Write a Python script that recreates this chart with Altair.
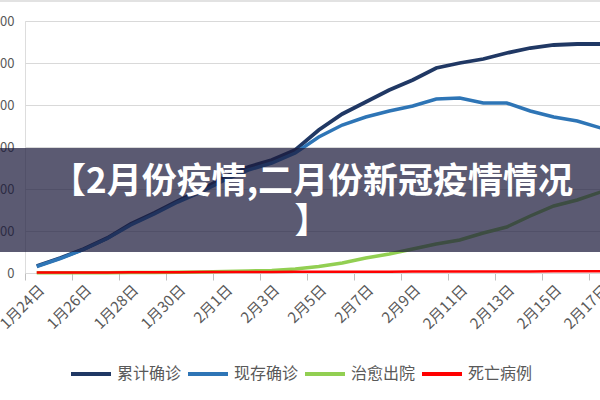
import altair as alt
import pandas as pd

dates = ["1月24日", "1月25日", "1月26日", "1月27日", "1月28日", "1月29日", "1月30日",
         "1月31日", "2月1日", "2月2日", "2月3日", "2月4日", "2月5日", "2月6日",
         "2月7日", "2月8日", "2月9日", "2月10日", "2月11日", "2月12日", "2月13日",
         "2月14日", "2月15日", "2月16日", "2月17日"]

cumulative = [1670, 3570, 5710, 8330, 11670, 14290, 17140, 19760, 22860, 25240, 26900,
              29290, 34050, 37860, 40710, 43570, 45950, 48810, 50000, 50950, 52380,
              53570, 54290, 54520, 54520]
existing = [1550, 3450, 5600, 8210, 11430, 14050, 16900, 19290, 22140, 24520, 26190,
            28570, 32380, 35240, 37140, 38570, 39760, 41430, 41670, 40480, 40480,
            38570, 37140, 36190, 34520]
recovered = [40, 50, 60, 70, 90, 110, 150, 220, 330, 480, 620, 950, 1550, 2380, 3570,
             4520, 5710, 6900, 7860, 9520, 10950, 13570, 15950, 17380, 19290]
deaths = [90, 100, 120, 130, 150, 170, 190, 210, 230, 250, 260, 270, 280, 300, 310,
          320, 330, 340, 350, 360, 370, 380, 390, 400, 410]

series_names = ["累计确诊", "现存确诊", "治愈出院", "死亡病例"]
series_colors = ["#203864", "#2e75b6", "#92cf52", "#ff0000"]
series_widths = [3.8, 3.5, 3.5, 2.5]
y_ticks = [0, 10000, 20000, 30000, 40000, 50000, 60000]
title_text = "【2月份疫情,二月份新冠疫情情况\n】"

rows = []
for name, vals in zip(series_names, [cumulative, existing, recovered, deaths]):
    for d, v in zip(dates, vals):
        rows.append({"date": d, "value": v, "series": name})
df = pd.DataFrame(rows)

FONT = "Noto Sans CJK SC"
W = 575
H = 252
XR = 587.5

x_enc = alt.X(
    "date:N", sort=dates, bandPosition=0.5,
    scale=alt.Scale(type="band", domain=dates, range=[0, XR], paddingInner=0, paddingOuter=0),
    axis=alt.Axis(values=dates[::2], bandPosition=0, labelOffset=5, labelAngle=-45,
                  labelAlign="right", labelBaseline="middle", labelPadding=7,
                  tickSize=7, tickColor="#bfbfbf", domainColor="#d9d9d9",
                  labelColor="#595959", labelFontSize=15, labelFont=FONT,
                  grid=False, title=None),
)
y_enc = alt.Y(
    "value:Q", scale=alt.Scale(domain=[0, 60000], nice=False),
    axis=alt.Axis(values=y_ticks, format="d", domain=False, ticks=False, labelPadding=11,
                  gridColor="#d9d9d9", labelColor="#595959", labelFontSize=13,
                  labelFont=FONT, title=None),
)
color_enc = alt.Color(
    "series:N",
    scale=alt.Scale(domain=series_names, range=series_colors),
    legend=alt.Legend(orient="none", legendX=44, legendY=331, direction="horizontal",
                      title=None, symbolType="stroke", symbolSize=1600,
                      symbolStrokeWidth=4, labelFontSize=16, labelFont=FONT,
                      labelColor="#595959", labelOffset=4, columnPadding=-2, padding=0),
)

base = alt.Chart(df)
layers = []
for name, sw in zip(series_names, series_widths):
    layers.append(
        base.transform_filter(alt.datum.series == name)
        .mark_line(strokeWidth=sw)
        .encode(x=x_enc, y=y_enc, color=color_enc)
    )

one = alt.Chart(pd.DataFrame({"t": [title_text]}))

border = one.mark_rule(color="#d9d9d9", strokeWidth=1.5).encode(
    x=alt.value(-25), x2=alt.value(W), y=alt.value(-20)
)
banner = one.mark_rect(fill="#1c1a3c", opacity=0.72).encode(
    x=alt.value(-25), x2=alt.value(W), y=alt.value(127), y2=alt.value(231)
)
title = one.mark_text(
    align="center", baseline="alphabetic", lineBreak="\n", lineHeight=40,
    fontSize=35, fontWeight="bold", font=FONT, color="white"
).encode(x=alt.value(287), y=alt.value(172), text="t:N")

chart = alt.layer(border, *layers, banner, title).properties(
    width=W, height=H,
    autosize=alt.AutoSizeParams(type="none"),
    padding={"left": 25, "top": 21, "right": 0, "bottom": 127},
).configure_view(stroke=None).configure(background="white")

chart.save("out.html", embed_options={"renderer": "svg", "actions": False})
